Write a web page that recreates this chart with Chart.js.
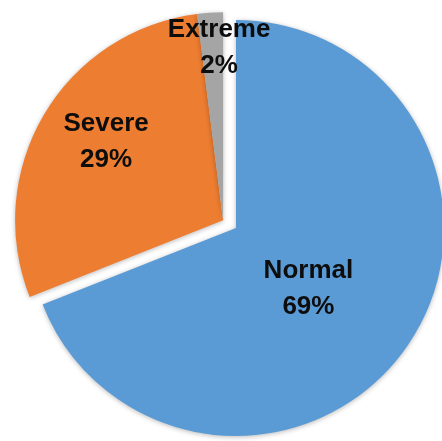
<!DOCTYPE html>
<html>
<head>
<meta charset="utf-8">
<script src="https://cdn.jsdelivr.net/npm/chart.js@4/dist/chart.umd.min.js"></script>
<style>
  html, body { margin: 0; padding: 0; background: #fff; }
  #wrap { width: 442px; height: 441px; position: relative; }
</style>
</head>
<body>
<div id="wrap"><canvas id="myChart"></canvas></div>
<script>
const categories = ['Normal', 'Severe', 'Extreme'];
const shares = [69, 29, 2];
const sliceColors = ['#5B9BD5', '#ED7D31', '#A5A5A5'];

// Severe + Extreme get pulled out together, along the Severe bisector
const pullOut = {
  id: 'pullOut',
  afterDatasetsUpdate(chart, args, opts) {
    const arcs = chart.getDatasetMeta(0).data;
    const ref = arcs[opts.ref];
    const mid = (ref.startAngle + ref.endAngle) / 2;
    const dx = Math.cos(mid) * opts.distance;
    const dy = Math.sin(mid) * opts.distance;
    opts.slices.forEach(i => {
      arcs[i].x += dx;
      arcs[i].y += dy;
    });
  }
};

// soft drop shadow under the slices
const sliceShadow = {
  id: 'sliceShadow',
  beforeDatasetsDraw(chart) {
    const ctx = chart.ctx;
    ctx.save();
    ctx.shadowColor = 'rgba(0,0,0,0.28)';
    ctx.shadowBlur = 5;
    ctx.shadowOffsetX = 0;
    ctx.shadowOffsetY = 1;
  },
  afterDatasetsDraw(chart) {
    chart.ctx.restore();
  }
};

// category name + percent inside each slice
const sliceLabels = {
  id: 'sliceLabels',
  afterDraw(chart, args, opts) {
    const ctx = chart.ctx;
    const data = chart.data.datasets[0].data;
    const total = data.reduce((a, b) => a + b, 0);
    ctx.save();
    ctx.font = opts.font;
    ctx.fillStyle = opts.color;
    ctx.textAlign = 'center';
    ctx.textBaseline = 'alphabetic';
    chart.getDatasetMeta(0).data.forEach((arc, i) => {
      const mid = (arc.startAngle + arc.endAngle) / 2 + opts.turn[i] * Math.PI / 180;
      const r = arc.outerRadius * opts.radius[i];
      const x = arc.x + Math.cos(mid) * r;
      const y = arc.y + Math.sin(mid) * r;
      const pct = Math.round(data[i] / total * 100) + '%';
      ctx.fillText(chart.data.labels[i], x, y - 8.5);
      ctx.fillText(pct, x, y + opts.lineHeight - 8.5);
    });
    ctx.restore();
  }
};

new Chart(document.getElementById('myChart'), {
  type: 'pie',
  data: {
    labels: categories,
    datasets: [{
      data: shares,
      backgroundColor: sliceColors,
      borderWidth: 0,
      radius: 208
    }]
  },
  options: {
    responsive: true,
    maintainAspectRatio: false,
    animation: false,
    events: [],
    layout: { padding: { left: 30, right: 0, top: 20, bottom: 5 } },
    plugins: {
      legend: { display: false },
      tooltip: { enabled: false },
      pullOut: { ref: 1, slices: [1, 2], distance: 15 },
      sliceLabels: {
        font: 'bold 26px "Liberation Sans", Arial, sans-serif',
        color: '#0d0d0d',
        lineHeight: 36,
        radius: [0.446, 0.684, 0.839],
        turn: [4.5, 4.1, 2.3]
      }
    }
  },
  plugins: [pullOut, sliceShadow, sliceLabels]
});
</script>
</body>
</html>
